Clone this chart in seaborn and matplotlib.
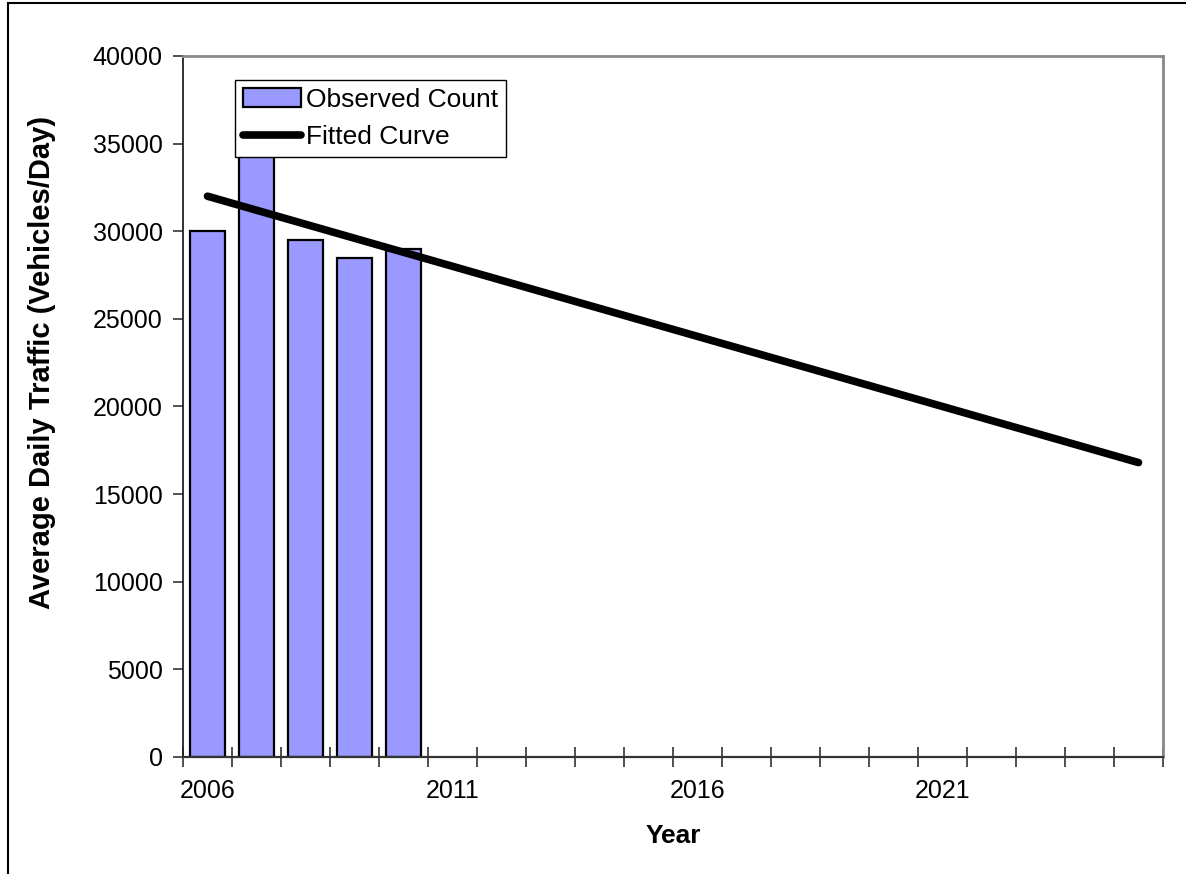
import numpy as np
import pandas as pd
import matplotlib
matplotlib.use("Agg")
import matplotlib.pyplot as plt
import matplotlib.patches as mpatches
import seaborn as sns

# Category axis: one slot per year
years = [str(y) for y in range(2006, 2026)]

# Observed average daily traffic counts
observed_years = ["2006", "2007", "2008", "2009", "2010"]
observed_counts = [30000, 35000, 29500, 28500, 29000]

# Fitted trend values for every year on the axis
fitted_counts = [32000, 31200, 30400, 29600, 28800, 28000, 27200, 26400, 25600, 24800,
                 24000, 23200, 22400, 21600, 20800, 20000, 19200, 18400, 17600, 16800]

label_years = ["2006", "2011", "2016", "2021"]
y_ticks = [0, 5000, 10000, 15000, 20000, 25000, 30000, 35000, 40000]

sns.set_theme(style="white")
plt.rcParams["font.family"] = ["Liberation Sans", "DejaVu Sans"]
plt.rcParams["text.color"] = "black"
plt.rcParams["axes.labelcolor"] = "black"

W, H = 1186, 874
fig = plt.figure(figsize=(W / 100, H / 100), dpi=100)
ax = fig.add_axes([183 / W, 1 - 757 / H, 980 / W, 701 / H])

obs = pd.DataFrame({"Year": observed_years, "Count": observed_counts})
sns.barplot(data=obs, x="Year", y="Count", order=years, color="#9999FF",
            saturation=1, width=0.73, edgecolor="black", linewidth=1.6,
            ax=ax, label="Observed Count", zorder=2)

fit = pd.DataFrame({"pos": np.arange(len(years)), "Count": fitted_counts})
sns.lineplot(data=fit, x="pos", y="Count", color="black", linewidth=5.5,
             solid_capstyle="round", ax=ax, label="Fitted Curve", zorder=3)

ax.set_xlim(-0.5, len(years) - 0.5)
ax.set_ylim(0, 40000)

# Ticks at category boundaries, labels at every fifth category centre
ax.set_xticks(np.arange(len(years) + 1) - 0.5, minor=True)
ax.set_xticks([years.index(y) for y in label_years], label_years)
ax.tick_params(axis="x", which="major", length=0, pad=16, labelsize=18, colors="black")
ax.tick_params(axis="x", which="minor", direction="inout", length=15, width=1.2,
               color="#333333", bottom=True)
ax.set_yticks(y_ticks, [str(v) for v in y_ticks])
ax.tick_params(axis="y", which="major", direction="out", length=7, width=1.2,
               color="#333333", left=True, pad=7.5, labelsize=18, labelcolor="black")

for side in ["top", "right"]:
    ax.spines[side].set_color("#888888")
    ax.spines[side].set_linewidth(2)
ax.spines["left"].set_color("#222222")
ax.spines["left"].set_linewidth(1.3)
ax.spines["bottom"].set_color("#333333")
ax.spines["bottom"].set_linewidth(1.6)

ax.set_xlabel("Year", fontsize=19, fontweight="bold", labelpad=15)
ax.set_ylabel("Average Daily Traffic (Vehicles/Day)", fontsize=21,
              fontweight="bold")
ax.yaxis.set_label_coords(-0.13, 0.563)

handles, labels = ax.get_legend_handles_labels()
order = [labels.index("Observed Count"), labels.index("Fitted Curve")]
leg = ax.legend([handles[i] for i in order], [labels[i] for i in order],
                loc="upper left", bbox_to_anchor=(0.053, 0.966), fontsize=19,
                frameon=True, fancybox=False, shadow=False, framealpha=1,
                edgecolor="black", handlelength=2.2, handletextpad=0.2,
                labelspacing=0.5, borderpad=0.3, borderaxespad=0)
leg.get_frame().set_linewidth(1.0)

# Outer chart border
fig.add_artist(mpatches.Rectangle((8 / W, -0.05), 1.2, 1.05 - 3 / H,
                                  transform=fig.transFigure, fill=False,
                                  edgecolor="black", linewidth=1.5))

fig.savefig("out.png", dpi=100, facecolor="white")
